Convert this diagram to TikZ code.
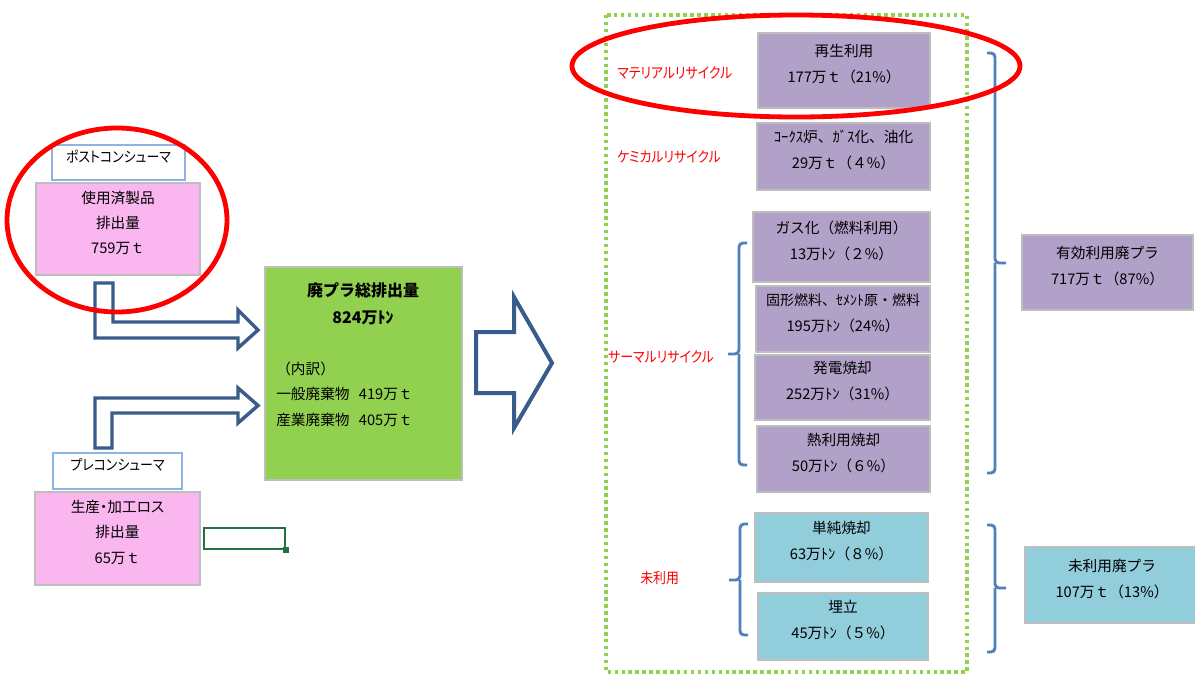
\documentclass[tikz,border=0pt]{standalone}
\usepackage{fontspec}
\setmainfont{Noto Sans CJK JP}
\newfontfamily\jpnarrow{Noto Sans CJK JP}[RawFeature=+palt, FakeStretch=0.88]
\newfontfamily\jpprop{Noto Sans CJK JP}[RawFeature=+palt]
\usetikzlibrary{fit}
\definecolor{pinkfill}{RGB}{250,182,238}
\definecolor{purplefill}{RGB}{177,160,199}
\definecolor{bluefill}{RGB}{146,205,220}
\definecolor{greenfill}{RGB}{146,208,80}
\definecolor{boxgray}{RGB}{190,190,190}
\definecolor{lblue}{RGB}{141,180,226}
\definecolor{arrowblue}{RGB}{56,93,138}
\definecolor{bracecol}{RGB}{79,129,189}
\definecolor{xlgreen}{RGB}{33,115,70}
\definecolor{dotgreen}{RGB}{146,208,80}
\definecolor{redline}{RGB}{255,0,0}
\begin{document}
\begin{tikzpicture}[x=0.75pt,y=-0.75pt,
  font=\fontsize{11}{19.5}\selectfont,
  box/.style={draw=boxgray, line width=1.5pt, inner sep=0pt, align=center},
  pinkbox/.style={box, fill=pinkfill},
  purplebox/.style={box, fill=purplefill},
  bluebox/.style={box, fill=bluefill},
  greenbox/.style={box, fill=greenfill},
  lblbox/.style={draw=lblue, line width=1.5pt, fill=white, inner sep=0pt, align=center, font=\fontsize{11}{19}\jpnarrow},
  redlabel/.style={text=redline, anchor=west, inner sep=0pt, font=\fontsize{11}{19}\jpnarrow},
  hollowarrow/.style={draw=arrowblue, line width=2.6pt, fill=white, line join=miter},
  bracket/.style={draw=bracecol, line width=2.2pt, rounded corners=3pt},
  redring/.style={draw=redline, line width=3.6pt}]
\useasboundingbox (0,0) rectangle (1195,675);
\fill[white] (0,0) rectangle (1195,675);

% left side
\node[lblbox, fit={(52,145)(185,180)}] (postlbl) {ポストコンシューマ};
\node[pinkbox, fit={(36,183)(200,275)}, font=\fontsize{11}{19}\selectfont] (used) {使用済製品\\排出量\\759万ｔ};
\node[lblbox, fit={(53,453)(182,489)}] (prelbl) {プレコンシューマ};
\node[pinkbox, fit={(35,492)(200,585)}, font=\fontsize{11}{19}\selectfont] (loss) {{\jpprop 生産・加工ロス}\\排出量\\65万ｔ};

% hollow bent arrows
\filldraw[hollowarrow] (95,283) -- (113,283) -- (113,322) -- (238,322) -- (238,310) -- (258,330) -- (238,348) -- (238,338) -- (95,338) -- cycle;
\filldraw[hollowarrow] (95,448) -- (95,398) -- (238,398) -- (238,388) -- (258,405.5) -- (238,423) -- (238,413) -- (112,413) -- (112,448) -- cycle;

% excel cell cursor
\node[draw=xlgreen, line width=1.5pt, inner sep=0pt, fit={(204,528)(285,549)}] (cell) {};
\node[fill=xlgreen, inner sep=0pt, minimum size=4.5pt] (handle) at (cell.south east) {};

% green total box
\node[greenbox, fit={(265,267)(462,480)}] (total) {};
\node[align=center, inner sep=0pt, font=\fontsize{12}{20}\selectfont\bfseries] (ttitle) at (363,304) {廃プラ総排出量\\824万ﾄﾝ};
\node[align=left, anchor=west, inner sep=0pt, font=\fontsize{11}{19}\selectfont] (tdetail) at (276,394) {（内訳）\\一般廃棄物\hspace{7pt}419万ｔ\\産業廃棄物\hspace{7pt}405万ｔ};

% middle big arrow
\filldraw[hollowarrow, line width=3pt] (476,332) -- (514,332) -- (514,297) -- (552,363) -- (514,428) -- (514,393) -- (476,393) -- cycle;

% dotted frame
\draw[dotgreen, line width=2.4pt, dash pattern=on 2.6pt off 2.6pt] (606,15) rectangle (967,672);

% red labels
\node[redlabel] (lmat) at (617,73) {マテリアルリサイクル};
\node[redlabel] (lchem) at (617,157) {ケミカルリサイクル};
\node[redlabel] (ltherm) at (608,357) {サーマルリサイクル};
\node[redlabel] (lunused) at (640,578) {未利用};

% purple boxes
\node[purplebox, fit={(758,33)(930,108)}] (b1) {再生利用\\177万ｔ（21\%）};
\node[purplebox, fit={(757,123)(930,190)}] (b2) {ｺｰｸｽ炉、ｶﾞｽ化、油化\\29万ｔ（４\%）};
\node[purplebox, fit={(753,212)(930,282)}] (b3) {ガス化（燃料利用）\\13万ﾄﾝ（２\%）};
\node[purplebox, fit={(756,286)(930,352)}] (b4) {{\fontsize{10.5}{19.5}\selectfont 固形燃料、ｾﾒﾝﾄ原・燃料}\\195万ﾄﾝ（24\%）};
\node[purplebox, fit={(755,355)(930,420)}] (b5) {発電焼却\\252万ﾄﾝ（31\%）};
\node[purplebox, fit={(757,426)(930,492)}] (b6) {熱利用焼却\\50万ﾄﾝ（６\%）};
\node[bluebox, fit={(755,513)(928,582)}] (b7) {単純焼却\\63万ﾄﾝ（８\%）};
\node[bluebox, fit={(758,593)(928,660)}] (b8) {埋立\\45万ﾄﾝ（５\%）};

% right summary boxes
\node[purplebox, fit={(1022,235)(1193,310)}] (eff) {有効利用廃プラ\\717万ｔ（87\%）};
\node[bluebox, fit={(1025,547)(1199,623)}] (unu) {未利用廃プラ\\107万ｔ（13\%）};

% brackets
\draw[bracket] (747,243) -- (739,243) -- (739,354) -- (728,354);
\draw[bracket] (739,354) -- (739,465) -- (747,465);
\draw[bracket] (748,524) -- (740,524) -- (740,580) -- (729,580);
\draw[bracket] (740,580) -- (740,635) -- (748,635);
\draw[bracket] (987,53) -- (995,53) -- (995,263) -- (1006,263);
\draw[bracket] (995,263) -- (995,473) -- (987,473);
\draw[bracket] (987,525) -- (995,525) -- (995,588) -- (1006,588);
\draw[bracket] (995,588) -- (995,652) -- (987,652);

% red rings
\draw[redring] (117,220) ellipse [x radius=110, y radius=92];
\draw[redring] (796,66) ellipse [x radius=224, y radius=51];
\end{tikzpicture}
\end{document}
